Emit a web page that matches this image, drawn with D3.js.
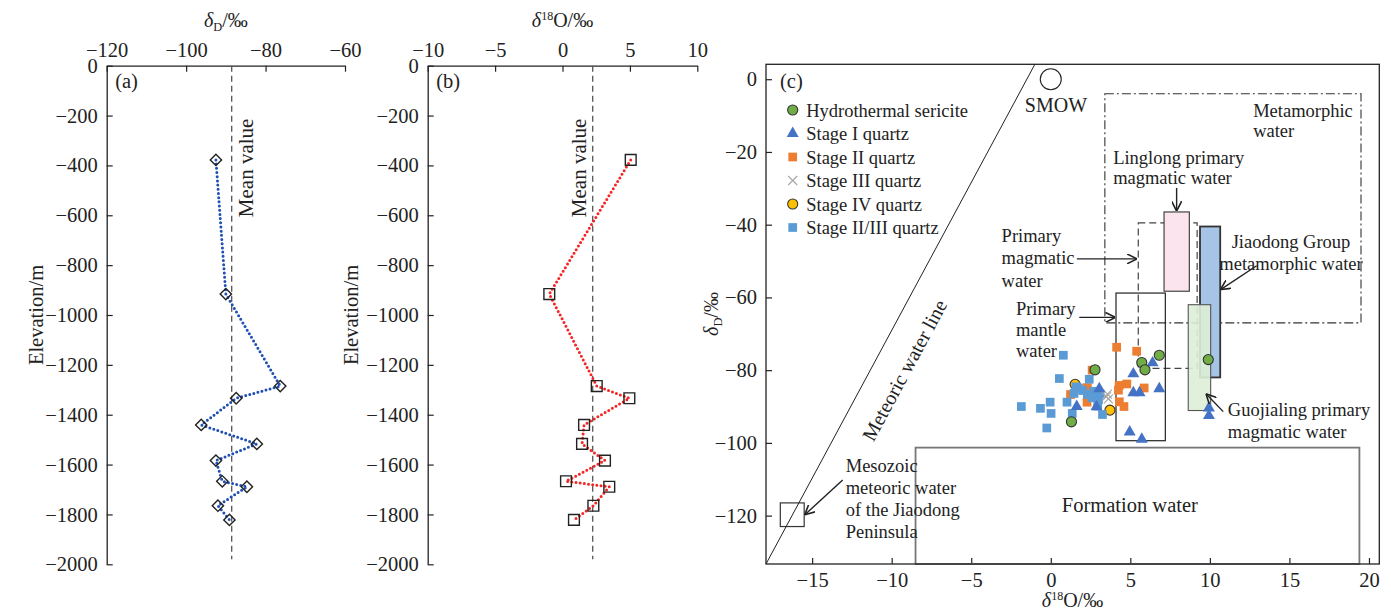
<!DOCTYPE html>
<html>
<head>
<meta charset="utf-8">
<script src="https://cdn.jsdelivr.net/npm/d3@7"></script>
<style>
body { margin: 0; background: #fff; }
svg text { font-family: "Liberation Serif", "Times New Roman", serif; fill: #222; }
</style>
</head>
<body>
<div id="chart"></div>
<script>
// ---- profile data, panels (a) and (b)
var elevation = [-378, -916, -1285, -1334, -1441, -1517, -1584, -1667, -1689, -1765, -1822];
var deltaD = [-92.5, -90.0, -76.3, -87.4, -96.2, -82.2, -92.5, -90.9, -84.7, -92.0, -89.1];
var delta18O = [5.06, -0.98, 2.54, 4.96, 1.6, 1.45, 3.15, 0.26, 3.47, 2.29, 0.85];
var elevTicks = d3.range(0, -2001, -200);
var dTicks = [-120, -100, -80, -60];
var oTicks = [-10, -5, 0, 5, 10];

// ---- panel (c) points [d18O, dD]
var sericite = [[2.78, -79.9], [5.72, -77.9], [6.82, -75.9], [5.92, -79.9], [1.3, -94.2], [9.9, -77.1]];
var stage1 = [[6.4, -78], [5.19, -81], [3.05, -85.1], [5.19, -86.2], [5.58, -86.2], [6.82, -85.1],
  [1.63, -90], [2.87, -90.1], [4.96, -97], [5.72, -99], [9.94, -90.4], [9.94, -92.5]];
var stage2 = [[4.14, -73.7], [5.4, -74.8], [2.3, -84.8], [4.3, -84.2], [4.78, -83.8], [5.87, -84.9],
  [4.31, -88.7], [4.6, -90], [1.24, -86.7], [2.28, -88.8], [2.6, -80], [4.25, -85.5]];
var stage3 = [[3.56, -86.6], [3.62, -87.9], [3.5, -87.3]];
var stage4 = [[1.53, -83.9], [3.72, -91]];
var stage23 = [[0.79, -75.9], [0.54, -82.3], [2.42, -82.5], [1.59, -84.6], [-1.85, -90], [-0.65, -90.5],
  [-0.04, -88.8], [0.02, -91.9], [-0.25, -95.9], [1.02, -88.8], [1.35, -91.9], [1.46, -86.4],
  [1.74, -84.9], [2.3, -86.7], [2.6, -87.6], [3.0, -88.1], [3.1, -86.5], [3.25, -92.2],
  [2.95, -89.9], [2.7, -85.8], [2.0, -85.6]];
var legendLabels = ["Hydrothermal sericite", "Stage I quartz", "Stage II quartz",
  "Stage III quartz", "Stage IV quartz", "Stage II/III quartz"];
var cTicksX = [-15, -10, -5, 0, 5, 10, 15, 20];
var cTicksY = [0, -20, -40, -60, -80, -100, -120];

// field boxes [x0, x1, y0, y1]
var metamorphicBox = [3.4, 19.5, -67, -4];
var magmaticBox = [5.5, 9.2, -79.5, -39.5];
var mantleBox = [4.1, 7.2, -99.4, -58.8];
var formationBox = [-8.5, 19.4, -133.3, -101.3];
var mesozoicBox = [-17, -15.5, -123, -116.5];
var linglongBox = [7.12, 8.71, -58.3, -36.5];
var jiaodongBox = [9.38, 10.65, -82, -40.5];
var guojialingBox = [8.64, 10.05, -91.1, -62];
var meteoricLine = [[-17.9, -133.3], [-1.0, 4.1]];
var smow = [0, 0];

var svg = d3.select('#chart').append('svg')
  .attr('width', 1391).attr('height', 613)
  .style('background', '#fff');

svg.append('defs').append('marker')
  .attr('id', 'arrow')
  .attr('viewBox', '0 0 10 10')
  .attr('refX', 9).attr('refY', 5)
  .attr('markerWidth', 10).attr('markerHeight', 10)
  .attr('markerUnits', 'userSpaceOnUse')
  .attr('orient', 'auto')
  .append('path')
  .attr('d', 'M0,0 L10,5 L0,10')
  .attr('fill', 'none').attr('stroke', '#222').attr('stroke-width', 1.6);

var fmt = d3.format('d');

function styleAxis(g, size) {
  g.attr('font-size', size);
  g.selectAll('line').attr('stroke', '#222').attr('stroke-width', 1.2);
  g.selectAll('path.domain').attr('stroke', '#222').attr('stroke-width', 1.3);
}

// label with italic delta, e.g. δD/‰ or δ18O/‰
function deltaLabel(t, kind) {
  t.append('tspan').attr('font-style', 'italic').text('δ');
  if (kind == 'D') {
    t.append('tspan').attr('font-size', '0.62em').attr('dy', '0.3em').text('D');
    t.append('tspan').attr('dy', '-0.19em').text('/‰');
  } else {
    t.append('tspan').attr('font-size', '0.6em').attr('dy', '-0.55em').text('18');
    t.append('tspan').attr('dy', '0.33em').text('O/‰');
  }
}

// ---------------- panels (a) and (b)
var yProf = d3.scaleLinear().domain([-2000, 0]).range([564.3, 65.7]);
var xa = d3.scaleLinear().domain([-120, -60]).range([106.7, 345]);
var xb = d3.scaleLinear().domain([-10, 10]).range([427.7, 697.3]);

var profiles = [
  { x: xa, vals: deltaD, ticks: dTicks, color: '#1f4fb4', marker: 'diamond', kind: 'D',
    tag: '(a)', ylab: 43, meanOff: 21 },
  { x: xb, vals: delta18O, ticks: oTicks, color: '#f52525', marker: 'square', kind: 'O',
    tag: '(b)', ylab: 358, meanOff: -6.5 }
];

profiles.forEach(function (p) {
  var x0 = p.x.range()[0];
  var g = svg.append('g');

  g.append('g')
    .attr('transform', 'translate(0,' + yProf(0) + ')')
    .call(d3.axisTop(p.x).tickValues(p.ticks).tickFormat(fmt)
      .tickSizeInner(-6).tickSizeOuter(0).tickPadding(9))
    .call(styleAxis, 20.5);

  g.append('g')
    .attr('transform', `translate(${x0},0)`)
    .call(d3.axisLeft(yProf).tickValues(elevTicks).tickFormat(fmt)
      .tickSizeInner(-6).tickSizeOuter(0).tickPadding(9))
    .call(styleAxis, 20.5);

  var mid = (p.x.range()[0] + p.x.range()[1]) / 2;
  g.append('text').attr('x', mid).attr('y', 27).attr('text-anchor', 'middle')
    .attr('font-size', 20).call(deltaLabel, p.kind);

  g.append('text')
    .attr('transform', `translate(${p.ylab},315) rotate(-90)`)
    .attr('text-anchor', 'middle').attr('font-size', 20.5)
    .text('Elevation/m');

  g.append('text').attr('x', x0 + 8.5).attr('y', 88).attr('font-size', 20.5).text(p.tag);

  // mean value line
  var mean = d3.mean(p.vals);
  g.append('line')
    .attr('x1', p.x(mean)).attr('x2', p.x(mean))
    .attr('y1', yProf(0)).attr('y2', yProf(-1980))
    .attr('stroke', '#555').attr('stroke-width', 1.3).attr('stroke-dasharray', '6,4');
  g.append('text')
    .attr('transform', `translate(${p.x(mean) + p.meanOff},${yProf(-410)}) rotate(-90)`)
    .attr('text-anchor', 'middle').attr('font-size', 21)
    .text('Mean value');

  var pts = p.vals.map(function (v, i) { return [v, elevation[i]]; });
  var line = d3.line()
    .x(function (d) { return p.x(d[0]); })
    .y(function (d) { return yProf(d[1]); });

  g.append('path').datum(pts)
    .attr('d', line)
    .attr('fill', 'none')
    .attr('stroke', p.color).attr('stroke-width', 3)
    .attr('stroke-linecap', 'round').attr('stroke-dasharray', '0,4.2');

  var sym = p.marker == 'diamond'
    ? d3.symbol().type(d3.symbolSquare).size(64)
    : d3.symbol().type(d3.symbolSquare).size(116);

  g.selectAll('.mk').data(pts).enter()
    .append('path')
    .attr('class', 'mk')
    .attr('d', sym)
    .attr('transform', function (d) {
      return `translate(${p.x(d[0])},${yProf(d[1])})` + (p.marker == 'diamond' ? ' rotate(45)' : '');
    })
    .attr('fill', 'none').attr('stroke', '#222').attr('stroke-width', 1.4);
});

// ---------------- panel (c)
var xc = d3.scaleLinear().domain([-17.9, 20.65]).range([766, 1379.3]);
var yc = d3.scaleLinear().domain([-133.3, 4.1]).range([564, 64.3]);
var gc = svg.append('g');

gc.append('g')
  .attr('transform', 'translate(0,564)')
  .call(d3.axisBottom(xc).tickValues(cTicksX).tickFormat(fmt)
    .tickSizeInner(-6).tickSizeOuter(0).tickPadding(8.5))
  .call(styleAxis, 20.5)
  .call(function (g) { g.select('.domain').remove(); });

gc.append('g')
  .attr('transform', 'translate(766,0)')
  .call(d3.axisLeft(yc).tickValues(cTicksY).tickFormat(fmt)
    .tickSizeInner(-6).tickSizeOuter(0).tickPadding(9))
  .call(styleAxis, 20.5)
  .call(function (g) { g.select('.domain').remove(); });

function boxRect(b, fill, stroke, width, dash) {
  return gc.append('rect')
    .attr('x', xc(b[0])).attr('width', xc(b[1]) - xc(b[0]))
    .attr('y', yc(b[3])).attr('height', yc(b[2]) - yc(b[3]))
    .attr('fill', fill).attr('stroke', stroke).attr('stroke-width', width)
    .attr('stroke-dasharray', dash || null);
}

boxRect(metamorphicBox, 'none', '#333', 1.1, '9,3,2,3');
boxRect(magmaticBox, 'none', '#444', 1.2, '7,4');
boxRect(mantleBox, 'none', '#222', 1.2);
boxRect(formationBox, 'none', '#777', 1.8);
boxRect(mesozoicBox, 'none', '#333', 1.2);
boxRect(linglongBox, '#fbe4ee', '#444', 1.2);
boxRect(jiaodongBox, '#a5c4e6', '#333', 1.8);
boxRect(guojialingBox, 'rgba(222,238,214,0.9)', '#555', 1.1);

// meteoric water line
gc.append('line')
  .attr('x1', xc(meteoricLine[0][0])).attr('y1', yc(meteoricLine[0][1]))
  .attr('x2', xc(meteoricLine[1][0])).attr('y2', yc(meteoricLine[1][1]))
  .attr('stroke', '#222').attr('stroke-width', 1);
var ang = Math.atan2(yc(meteoricLine[1][1]) - yc(meteoricLine[0][1]),
  xc(meteoricLine[1][0]) - xc(meteoricLine[0][0])) * 180 / Math.PI;
gc.append('text')
  .attr('transform', `translate(${xc(-9.2)},${yc(-80)}) rotate(${ang})`)
  .attr('text-anchor', 'middle').attr('dy', '0.35em').attr('font-size', 20)
  .text('Meteoric water line');

// SMOW
gc.append('circle')
  .attr('cx', xc(smow[0])).attr('cy', yc(smow[1])).attr('r', 10.5)
  .attr('fill', '#fff').attr('stroke', '#222').attr('stroke-width', 1.1);

// points
var sqSym = d3.symbol().type(d3.symbolSquare).size(76);
var triSym = d3.symbol().type(d3.symbolTriangle).size(62);
var cirSym = d3.symbol().type(d3.symbolCircle).size(80);

function drawPts(data, sym, fill, stroke) {
  gc.append('g').selectAll('path').data(data).enter()
    .append('path')
    .attr('d', sym)
    .attr('transform', function (d) { return `translate(${xc(d[0])},${yc(d[1])})`; })
    .attr('fill', fill)
    .attr('stroke', stroke || 'none').attr('stroke-width', 1.1);
}
function drawCross(data) {
  gc.append('g').selectAll('path').data(data).enter()
    .append('path')
    .attr('d', 'M-4.5,-4.5L4.5,4.5M-4.5,4.5L4.5,-4.5')
    .attr('transform', function (d) { return `translate(${xc(d[0])},${yc(d[1])})`; })
    .attr('stroke', '#a6a6a6').attr('stroke-width', 1.1).attr('fill', 'none');
}

drawPts(stage2, sqSym, '#ed7d31');
drawPts(stage4, cirSym, '#ffc000', '#333');
drawPts(stage23, sqSym, '#5b9bd5');
drawCross(stage3);
drawPts(stage1, triSym, '#4472c4');
drawPts(sericite, cirSym, '#70ad47', '#333');

// frame
gc.append('rect')
  .attr('x', 766).attr('y', 64.3).attr('width', 1379.3 - 766).attr('height', 564 - 64.3)
  .attr('fill', 'none').attr('stroke', '#222').attr('stroke-width', 1.3);

// legend
var legendY = [110, 133.5, 157, 180.5, 204, 227.5];
var lg = gc.append('g');
[
  function (g) { g.append('path').attr('d', cirSym).attr('fill', '#70ad47').attr('stroke', '#333').attr('stroke-width', 1.1); },
  function (g) { g.append('path').attr('d', triSym).attr('fill', '#4472c4'); },
  function (g) { g.append('path').attr('d', sqSym).attr('fill', '#ed7d31'); },
  function (g) { g.append('path').attr('d', 'M-4.5,-4.5L4.5,4.5M-4.5,4.5L4.5,-4.5').attr('stroke', '#a6a6a6').attr('stroke-width', 1.1); },
  function (g) { g.append('path').attr('d', cirSym).attr('fill', '#ffc000').attr('stroke', '#333').attr('stroke-width', 1.1); },
  function (g) { g.append('path').attr('d', sqSym).attr('fill', '#5b9bd5'); }
].forEach(function (draw, i) {
  var row = lg.append('g').attr('transform', `translate(792.7,${legendY[i]})`);
  draw(row);
  row.append('text').attr('x', 13.5).attr('y', 6.5).attr('font-size', 18.5).text(legendLabels[i]);
});

gc.append('text').attr('x', 780).attr('y', 88).attr('font-size', 20.5).text('(c)');

// annotations
var notes = [
  { at: [-1.63, -8.9], lines: ['SMOW'], size: 20 },
  { at: [12.72, -10.3], lines: ['Metamorphic', 'water'], lh: 20 },
  { at: [3.92, -23.3], lines: ['Linglong primary', 'magmatic water'], lh: 20 },
  { at: [-3.09, -44.7], lines: ['Primary', 'magmatic', 'water'], lh: 22.5 },
  { at: [-2.19, -64.8], lines: ['Primary', 'mantle', 'water'], lh: 21 },
  { at: [15.1, -46.4], lines: ['Jiaodong Group', 'metamorphic water'], lh: 22, anchor: 'middle' },
  { at: [11.13, -92.6], lines: ['Guojialing primary', 'magmatic water'], lh: 22 },
  { at: [-12.89, -108.0], lines: ['Mesozoic', 'meteoric water', 'of the Jiaodong', 'Peninsula'], lh: 22 },
  { at: [4.97, -119.0], lines: ['Formation water'], size: 20.5, anchor: 'middle' }
];
notes.forEach(function (n) {
  var t = gc.append('text')
    .attr('font-size', n.size || 18.5)
    .attr('text-anchor', n.anchor || 'start');
  n.lines.forEach(function (s, i) {
    t.append('tspan').attr('x', xc(n.at[0])).attr('y', yc(n.at[1]) + i * (n.lh || 0)).text(s);
  });
});

var arrows = [
  [[7.91, -29.9], [7.91, -36.0]],
  [[1.64, -49.4], [5.35, -49.4]],
  [[1.79, -65.5], [4.0, -65.5]],
  [[12.94, -51.3], [10.72, -57.7]],
  [[10.84, -91.4], [9.8, -86.7]],
  [[-13.08, -110.2], [-15.42, -119.6]]
];
arrows.forEach(function (a) {
  gc.append('line')
    .attr('x1', xc(a[0][0])).attr('y1', yc(a[0][1]))
    .attr('x2', xc(a[1][0])).attr('y2', yc(a[1][1]))
    .attr('stroke', '#222').attr('stroke-width', 1.4)
    .attr('marker-end', 'url(#arrow)');
});

// axis titles
gc.append('text').attr('x', 1072.5).attr('y', 607).attr('text-anchor', 'middle')
  .attr('font-size', 20).call(deltaLabel, 'O');
gc.append('text')
  .attr('transform', 'translate(718,314) rotate(-90)')
  .attr('text-anchor', 'middle').attr('font-size', 20).call(deltaLabel, 'D');
</script>
</body>
</html>
